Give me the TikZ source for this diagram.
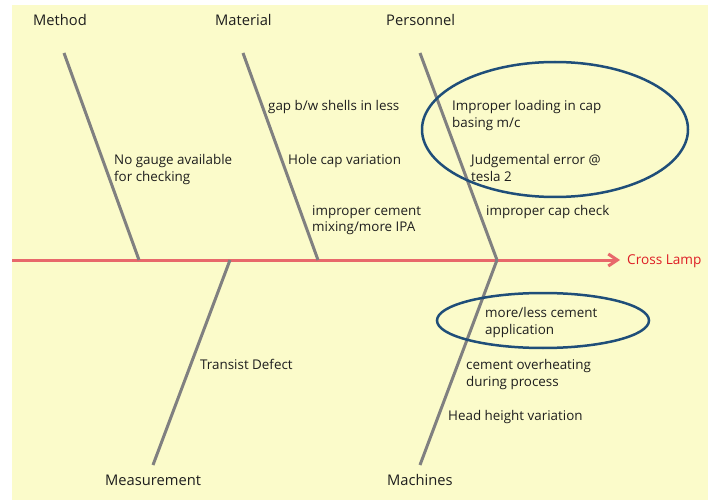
\documentclass[tikz,border=0pt]{standalone}
\usepackage{fontspec}
\setmainfont{Open Sans}
\usetikzlibrary{arrows.meta,shapes.geometric}
\definecolor{paper}{RGB}{251,251,202}
\definecolor{bonegray}{RGB}{128,128,128}
\definecolor{spinered}{RGB}{232,104,107}
\definecolor{headred}{RGB}{222,30,38}
\definecolor{ringblue}{RGB}{31,78,121}
\definecolor{ink}{RGB}{30,30,30}
\tikzset{
  bone/.style={draw=bonegray, line width=3pt},
  spine/.style={draw=spinered, line width=3pt, -{Straight Barb[length=9pt,width=12pt,line width=3pt]}},
  % multi-line causes are placed by the baseline of their last line
  cause/.style={anchor=base west, inner sep=0pt, align=left, text=ink,
    font=\fontsize{13.4}{17}\selectfont},
  category/.style={anchor=base west, inner sep=0pt, text=ink,
    font=\fontsize{14.7}{18}\selectfont},
  effect/.style={anchor=base west, inner sep=0pt, text=headred,
    font=\fontsize{13.6}{17}\selectfont},
  ring/.style={draw=ringblue, line width=2.5pt, ellipse, inner sep=0pt}
}
\begin{document}
\begin{tikzpicture}[x=1pt,y=-1pt]
\useasboundingbox (0,0) rectangle (710,500);
\fill[white] (0,0) rectangle (710,500);
\fill[paper] (12,5) rectangle (708,500);

% spine ends and bone ends
\coordinate (tail) at (12,260);
\coordinate (head) at (620,260);
\coordinate (methodTop) at (64,53);
\coordinate (methodFoot) at (139,260);
\coordinate (materialTop) at (243,53);
\coordinate (materialFoot) at (318,260);
\coordinate (personnelTop) at (420,53);
\coordinate (joint) at (497,260);
\coordinate (measureFoot) at (230,260);
\coordinate (measureEnd) at (153,465);
\coordinate (machineEnd) at (420,465);

% main spine with the effect
\draw[spine] (tail) -- (head);
\node[effect] (effect) at (627,264) {Cross Lamp};

% bones
\draw[bone] (methodTop) -- (methodFoot);
\draw[bone] (materialTop) -- (materialFoot);
\draw[bone] (personnelTop) -- (joint);
\draw[bone] (measureFoot) -- (measureEnd);
\draw[bone] (joint) -- (machineEnd);

% category labels
\node[category] (method) at (33,26) {Method};
\node[category] (material) at (215,26) {Material};
\node[category] (personnel) at (386,26) {Personnel};
\node[category] (measurement) at (105,485) {Measurement};
\node[category] (machines) at (387,485) {Machines};

% causes
\node[cause] (c1) at (114,182) {No gauge available\\for checking};
\node[cause] (c2) at (268,111) {gap b/w shells in less};
\node[cause] (c3) at (288,165) {Hole cap variation};
\node[cause] (c4) at (312,232) {improper cement\\mixing/more IPA};
\node[cause] (c5) at (452,128) {Improper loading in cap\\basing m/c};
\node[cause] (c6) at (471,182) {Judgemental error @\\tesla 2};
\node[cause] (c7) at (486,215) {improper cap check};
\node[cause] (c8) at (200,369) {Transist Defect};
\node[cause] (c9) at (485,334) {more/less cement\\application};
\node[cause] (c10) at (466,386) {cement overheating\\during process};
\node[cause] (c11) at (448,420) {Head height variation};

% highlighted groups
\node[ring, minimum width=266pt, minimum height=135pt] (ringTop) at (555,129.5) {};
\node[ring, minimum width=212pt, minimum height=55pt] (ringBottom) at (543,320.5) {};
\end{tikzpicture}
\end{document}
